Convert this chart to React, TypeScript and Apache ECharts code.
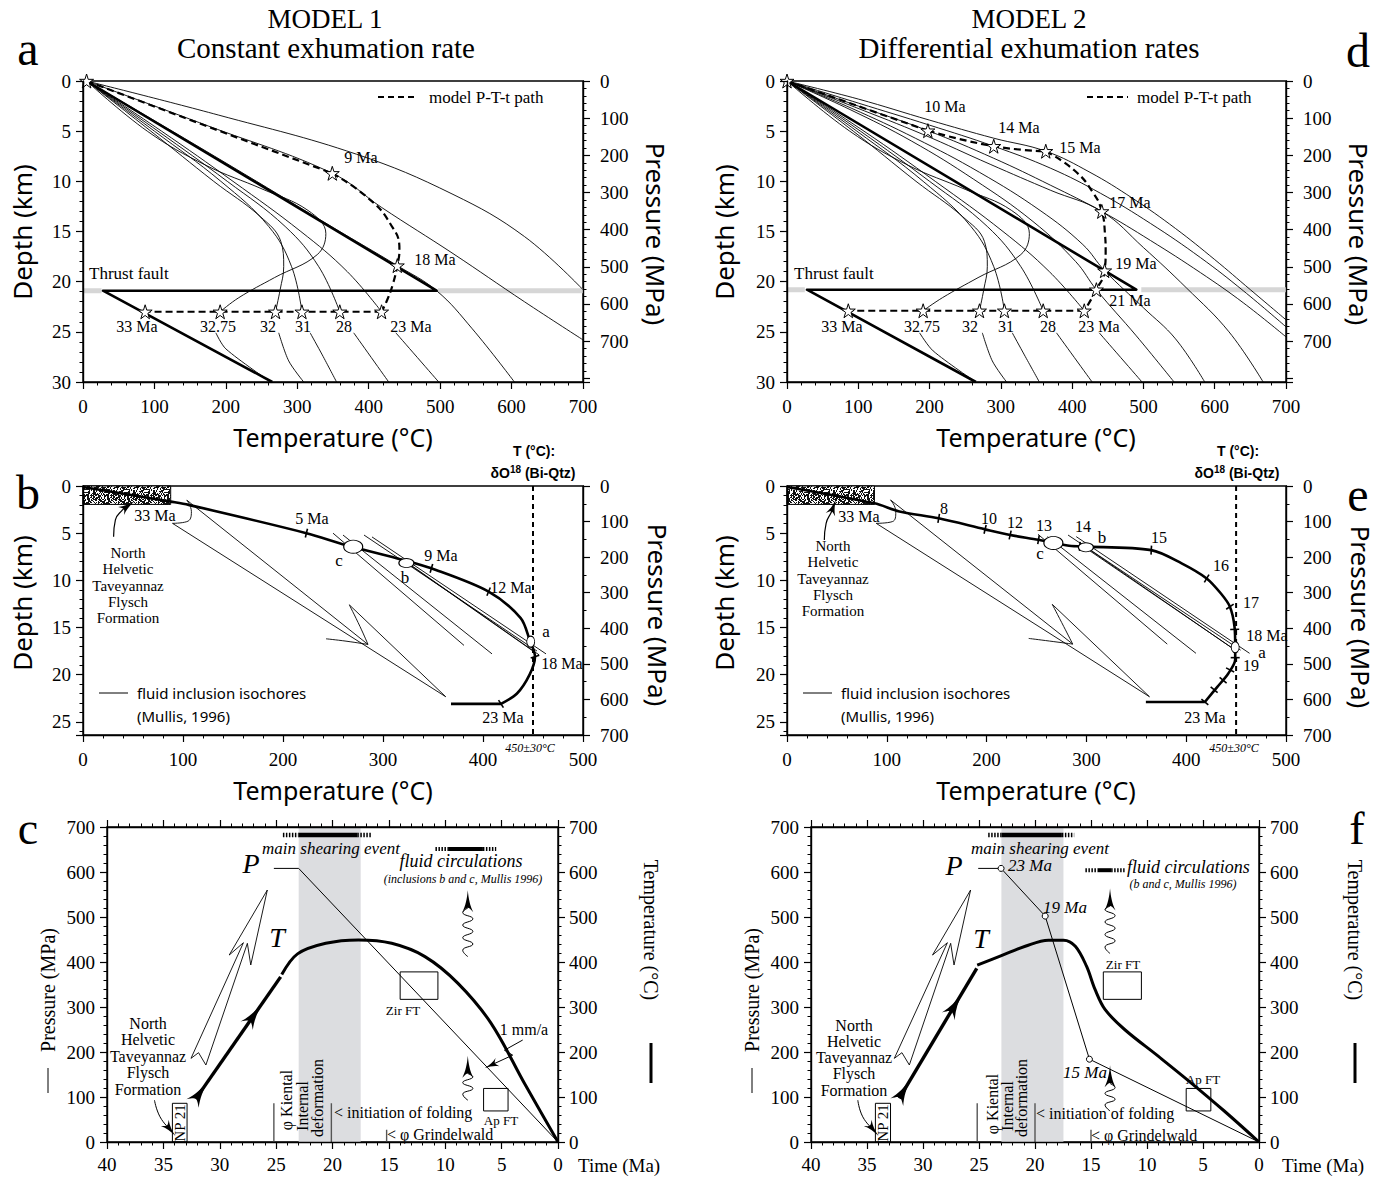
import React, { useEffect, useRef } from 'react';
import * as echarts from 'echarts';

const SERIF = "'Liberation Serif', 'Times New Roman', serif";
const SANS = "'Noto Sans', 'DejaVu Sans', sans-serif";
const NARROW = "'Liberation Sans Narrow', 'Liberation Sans', 'Noto Sans', sans-serif";

// ---------------- axis tick values ----------------
const tempTicksTop = [0, 100, 200, 300, 400, 500, 600, 700];
const depthTicksTop = [0, 5, 10, 15, 20, 25, 30];
const pressTicksTop = [0, 100, 200, 300, 400, 500, 600, 700];
const pressMaxTop = 810;
const tempTicksMid = [0, 100, 200, 300, 400, 500];
const depthTicksMid = [0, 5, 10, 15, 20, 25];
const depthMaxMid = 26.4;
const pressTicksMid = [0, 100, 200, 300, 400, 500, 600, 700];
const timeTicks = [0, 5, 10, 15, 20, 25, 30, 35, 40];
const ptTicks = [0, 100, 200, 300, 400, 500, 600, 700];

// ---------------- panel a : Model 1 geotherms (T °C, depth km) ----------------
const aThrustGeotherm = [[5, 0], [495, 20.9], [28, 20.9], [265, 30]];
const aThrustBandL = [[0, 20.9], [26, 20.9]];
const aThrustBandR = [[497, 20.9], [700, 20.9]];
const aGeoOuter = [[5, 0], [190, 3.4], [383, 7.3], [518, 11.3], [618, 15.5], [700, 20.8]];
const aGeo9 = [[5, 0], [176, 4.5], [349, 9.2], [418, 12.6], [518, 17.2], [618, 22.0], [700, 25.8]];
const aGeo18 = [[5, 0], [125, 5], [243, 10], [350, 14.6], [440, 18.4], [495, 20.9], [545, 24.7], [604, 30]];
const aGeo23 = [[5, 0], [110, 5], [210, 10], [305, 15], [370, 19], [418, 23]];
const aGeo23Low = [[438, 25.1], [498, 30]];
const aGeo28 = [[5, 0], [105, 5], [202, 10], [283, 14.5], [330, 18.5], [359.5, 23]];
const aGeo28Low = [[379, 25.1], [428, 30]];
const aGeo31 = [[5, 0], [100, 5], [193, 10], [260, 14.5], [292, 18.5], [306.5, 23]];
const aGeo31Low = [[318, 25.1], [335, 27.3], [355, 30]];
const aGeo32 = [[5, 0], [95, 5], [183, 10], [248, 13.5], [277, 16], [281, 18.5], [276, 20.8], [269.5, 23]];
const aGeo32Low = [[274, 25.1], [288, 27.9], [309, 30]];
const aGeo3275 = [[5, 0], [90, 5], [172, 8.4], [252, 10.8], [315, 12.9], [340, 15.2], [328, 17.3], [268, 19.6], [218, 21.6], [192, 23]];
const aGeo3275Low = [[186, 25.1], [200, 26.7], [263, 30]];
const aPathUp = [[5, 0], [349, 9.2]];
const aPathLoop = [[349, 9.2], [398, 11.6], [430, 14.2], [443, 16.8], [440, 18.4], [434, 20.2], [426, 21.8], [418, 23]];
const aPathBase = [[418, 23], [87, 23]];
const aStars = [[5, 0], [349, 9.2], [440, 18.4], [418, 23], [359.5, 23], [306.5, 23], [269.5, 23], [192, 23], [87, 23]];

// ---------------- panel d : Model 2 geotherms ----------------
const dThrustGeotherm = [[0, 0], [490, 20.8], [28, 20.8], [265, 30]];
const dThrustBandL = [[0, 20.8], [25, 20.8]];
const dThrustBandR = [[497, 20.8], [700, 20.8]];
const dGeo15 = [[0, 0], [100, 1.8], [200, 3.9], [290, 5.7], [363, 7], [425, 9.1], [485, 11.7], [545, 14.7], [600, 17.8], [650, 20.8], [700, 23.8]];
const dGeo14 = [[0, 0], [100, 2.2], [200, 4.4], [290, 6.5], [370, 8.7], [440, 11.2], [510, 14.2], [580, 17.6], [640, 20.9], [700, 24.5]];
const dGeo10 = [[0, 0], [100, 2.5], [197.6, 4.95], [290, 7.7], [370, 10.4], [441.6, 13], [510, 15.9], [580, 19.1], [640, 22.1], [700, 25.5]];
const dGeo17 = [[0, 0], [95, 2.6], [190, 5.3], [285, 8.3], [370, 10.9], [441.6, 13], [500, 16.6], [560, 20.6], [620, 25], [668, 30]];
const dGeo19 = [[0, 0], [90, 2.7], [180, 5.7], [270, 9.1], [355, 12.9], [415, 16.3], [445.6, 18.9], [500, 22.6], [545, 25.7], [586, 30]];
const dGeo21 = [[0, 0], [87, 2.8], [175, 6], [262, 9.8], [345, 14], [405, 18], [434, 20.8], [490, 25.4], [543, 30]];
const dGeo23 = [[0, 0], [108, 5], [208, 10], [303, 15], [368, 19], [417, 22.9]];
const dGeo23Low = [[438, 25.1], [498, 30]];
const dGeo28 = [[0, 0], [103, 5], [200, 10], [281, 14.5], [328, 18.5], [359.4, 22.9]];
const dGeo28Low = [[378, 25.1], [428, 30]];
const dGeo31 = [[0, 0], [98, 5], [191, 10], [258, 14.5], [290, 18.5], [305, 22.9]];
const dGeo31Low = [[316, 25.1], [333, 27.3], [354, 30]];
const dGeo32 = [[0, 0], [93, 5], [181, 10], [246, 13.5], [277, 16], [281, 18.5], [276, 20.8], [270, 22.9]];
const dGeo32Low = [[274, 25.1], [288, 27.9], [308, 30]];
const dGeo3275 = [[0, 0], [88, 5], [170, 8.4], [250, 10.8], [315, 12.9], [340, 15.2], [328, 17.3], [268, 19.6], [218, 21.6], [191, 22.9]];
const dGeo3275Low = [[186, 25.1], [205, 26.9], [265, 30]];
const dPathUp = [[0, 0], [197.6, 4.95]];
const dPathMid = [[197.6, 4.95], [290, 6.5], [363, 7]];
const dPathLoop = [[363, 7], [403, 8.9], [430, 11.2], [441.6, 13], [446, 15.2], [447, 17], [445.6, 18.9], [434, 20.8], [417, 22.9]];
const dPathBase = [[417, 22.9], [86, 22.9]];
const dStars = [[0, 0], [197.6, 4.95], [290, 6.5], [363, 7], [441.6, 13], [445.6, 18.9], [434, 20.8], [417, 22.9], [359.4, 22.9], [305, 22.9], [270, 22.9], [191, 22.9], [86, 22.9]];

// ---------------- panel b : Model 1 P-T path with fluid inclusions ----------------
const bFlyschBox = [[0, 0], [87.7, 1.95]];
const bBiQtzT = [[450, 0], [450, 26.4]];
const bPath = [[0, 0.1], [87.7, 1.66], [105.6, 2.0], [223.4, 5.0], [262.7, 6.26], [319.9, 7.84], [348.4, 8.73], [405.6, 11.2], [437.7, 14.0], [446.6, 16.3], [452, 18.1], [446.6, 20.0], [434, 22.0], [418, 23.1]];
const bPathBase = [[418, 23.1], [368, 23.1]];
const bTimeTicks = [[223.4, 5.0], [348.4, 8.73], [405.6, 11.2], [452, 18.1], [418, 23.1]];
const bInclusions = [[270.2, 6.43], [323.4, 8.17], [447.7, 16.5]];
const bIsochores = [
  [[250, 5.0], [381, 16.9]],
  [[260, 5.2], [409, 17.8]],
  [[281, 5.2], [454, 17.5]],
  [[289, 5.4], [463, 17.8]],
  [[318, 7.7], [450, 17.5]],
  [[324, 8.1], [456, 17.9]],
];
const bArrowShaft1 = [[103.8, 1.5], [285, 16.8]];
const bArrowShaft2 = [[89.5, 3.96], [362.7, 22.34]];
const bArrowBarb1 = [[243, 16.2], [263, 16.45], [285, 16.8]];
const bArrowBarb2 = [[266.3, 12.6], [277, 14.9], [285, 16.8]];
const bArrowWedge = [[266.3, 12.6], [362.7, 22.34]];
const bArrowHook = [[89.5, 3.96], [103.8, 3.78], [108.4, 2.72], [103.8, 1.5]];
const bFlyschArrow = [[30.6, 5.37], [32.4, 3.6], [39.5, 2.54], [44.9, 2.12]];

// ---------------- panel e : Model 2 P-T path ----------------
const eFlyschBox = [[0, 0], [87.6, 1.95]];
const eBiQtzT = [[450, 0], [450, 26.4]];
const ePath = [[0, 0.1], [87.6, 1.84], [112.6, 2.7], [152, 3.43], [198.5, 4.6], [223.6, 5.2], [252, 5.7], [281, 6.3], [293.4, 6.4], [365, 6.8], [395.4, 8.2], [420.5, 9.8], [434.8, 11.4], [443.8, 12.8], [448.4, 14.9], [449.1, 17.0], [449.1, 18.4], [442, 19.9], [431.2, 21.3], [418.7, 22.9]];
const ePathBase = [[418.7, 22.9], [359.6, 22.9]];
const eTimeTicks = [[152, 3.43], [198.5, 4.6], [223.6, 5.2], [252, 5.7], [293.4, 6.4], [365, 6.8], [420.5, 9.8], [443.8, 12.8], [448.6, 15.2], [449.1, 18.2], [444, 19.5], [437, 20.6], [428, 21.6], [418.7, 22.9]];
const eInclusions = [[266.9, 6.04], [299.5, 6.5], [449.1, 17.1]];
const eIsochores = [
  [[251.5, 5.12], [381, 16.76]],
  [[261, 5.37], [409.8, 17.74]],
  [[281.6, 5.2], [454.5, 17.4]],
  [[289.8, 5.37], [463.5, 17.74]],
  [[297, 6.3], [449, 17.4]],
  [[301, 6.7], [452, 17.6]],
];
const eArrowShaft1 = [[103.7, 1.48], [286.3, 16.76]];
const eArrowShaft2 = [[89.4, 3.96], [363.2, 22.34]];
const eArrowBarb1 = [[242.2, 16.16], [263, 16.44], [286.3, 16.76]];
const eArrowBarb2 = [[265.8, 12.55], [277.3, 14.9], [286.3, 16.76]];
const eArrowWedge = [[265.8, 12.55], [363.2, 22.34]];
const eArrowHook = [[89.4, 3.96], [105.5, 3.78], [109, 2.72], [103.7, 1.48]];
const eFlyschArrow = [[37.4, 5.73], [39.2, 3.96], [44.6, 2.72], [46.4, 2.19]];

// ---------------- panel c : Model 1 P-T-t (time Ma, MPa / °C) ----------------
const cShading = [[23.0, 0], [17.5, 700]];
const cPressure = [[25.2, 608], [23, 608], [0, 0]];
const cTemp = [[24.5, 372], [23.1, 418], [20.6, 441.5], [17.7, 449], [14.75, 441.5], [11.8, 412], [8.87, 352.6], [5.93, 263.7], [2.98, 130.4], [0, 0]];
const cTempArrow = [[32.1, 97], [24.6, 367]];
const cTempArrowHeads = [[31.7, 111], [26.9, 284]];
const cHollowArrow = [[32.55, 185.9], [27.9, 442.9], [29.16, 415.5], [25.78, 560], [27.25, 393.3], [27.55, 441.5], [31.23, 171.1], [31.88, 198.5], [32.55, 185.9]];
const cShearThick = [[23, 682], [17.8, 682]];
const cShearDashL = [[24.4, 682], [23, 682]];
const cShearDashR = [[17.8, 682], [16.5, 682]];
const cFluidThick = [[9.75, 651], [6.66, 651]];
const cFluidDashL = [[10.87, 651], [9.75, 651]];
const cFluidDashR = [[6.66, 651], [5.48, 651]];
const cNP21 = [[34.2, 0], [32.9, 86]];
const cZirFT = [[14.0, 317], [10.65, 378]];
const cApFT = [[6.6, 69], [4.43, 119]];
const cKiental = [[25.2, 0], [25.2, 86]];
const cFolding = [[20.1, 0], [20.1, 86]];
const cGrindelwald = [[15.2, 0], [15.2, 27]];
const cWavyUp = [[8.0, 412], [8.45, 426], [7.55, 440], [8.45, 454], [7.55, 468], [8.45, 482], [7.55, 496], [8.45, 510], [8.0, 520]];
const cWavyUpHead = [[8.0, 535]];
const cWavyLow = [[8.0, 93], [8.45, 106], [7.55, 119], [8.45, 132], [7.55, 145], [8.0, 152]];
const cWavyLowHead = [[8.0, 167]];
const cRateArrow = [[3.13, 226.6], [4.75, 204], [4.02, 193], [5.93, 171]];
const cNPArrow = [[35.79, 93], [35.3, 56], [34.4, 28]];

// ---------------- panel f : Model 2 P-T-t ----------------
const fShading = [[23.0, 0], [17.46, 700]];
const fPressure = [[25.07, 608], [23.03, 608], [19.09, 502], [15.14, 184], [0, 0]];
const fPressureMarks = [[23.03, 608], [19.09, 502], [15.14, 184]];
const fTemp = [[25.16, 393], [23, 414], [20.87, 435], [18.8, 448.5], [17.45, 448.5], [16.4, 435], [15.4, 390.7], [14.64, 339], [13.75, 294.6], [12.0, 250], [9.0, 190.7], [6.07, 131.6], [3.1, 68.9], [0, 0]];
const fTempArrow = [[32.12, 97], [25.2, 386]];
const fTempArrowHeads = [[31.7, 115], [27.1, 306]];
const fHollowArrow = [[32.56, 185.9], [27.82, 442.9], [29.15, 415.5], [25.75, 560], [27.23, 393.3], [27.53, 441.5], [31.22, 171.1], [31.88, 198.5], [32.56, 185.9]];
const fShearThick = [[23.0, 682], [17.6, 682]];
const fShearDashL = [[24.18, 682], [23.0, 682]];
const fShearDashR = [[17.6, 682], [16.5, 682]];
const fFluidThick = [[14.4, 604], [13.2, 604]];
const fFluidDashL = [[15.5, 604], [14.4, 604]];
const fFluidDashR = [[13.2, 604], [12.0, 604]];
const fNP21 = [[34.25, 0], [32.9, 86]];
const fZirFT = [[13.9, 317], [10.5, 378]];
const fApFT = [[6.5, 69], [4.3, 119]];
const fKiental = [[25.16, 0], [25.16, 86]];
const fFolding = [[20.0, 0], [20.0, 86]];
const fGrindelwald = [[15.0, 0], [15.0, 27]];
const fWavyUp = [[13.3, 419], [13.75, 433], [12.85, 447], [13.75, 461], [12.85, 475], [13.75, 489], [12.85, 503], [13.75, 517], [13.3, 524]];
const fWavyUpHead = [[13.3, 539]];
const fWavyLow = [[13.3, 69], [13.75, 82], [12.85, 95], [13.75, 108], [12.85, 121], [13.3, 130]];
const fWavyLowHead = [[13.3, 146]];
const fNPArrow = [[35.82, 93], [35.38, 56], [34.45, 28]];

// ---------------- styling constants (not data) ----------------
const STAR = 'path://M50,0 L61.8,36.2 L100,36.2 L69.1,58.8 L80.9,95.1 L50,72.7 L19.1,95.1 L30.9,58.8 L0,36.2 L38.2,36.2 Z';
const HEAD = 'path://M10,0 C11.5,12 14,21 20,30 C15,26 12.5,24 10,24 C7.5,24 5,26 0,30 C6,21 8.5,12 10,0 Z';
const inclusionSizes = [[19, 13], [15, 9], [8, 11]];

function segAngle(p1: number[], p2: number[], kx: number, ky: number) {
  return (Math.atan2((p2[1] - p1[1]) * ky, (p2[0] - p1[0]) * kx) * 180) / Math.PI;
}
function tangentAt(path: number[][], p: number[], kx: number, ky: number) {
  let best = 0;
  let bd = Infinity;
  for (let i = 0; i < path.length - 1; i++) {
    const a = path[i], b = path[i + 1];
    const ax = a[0] * kx, ay = a[1] * ky, bx = b[0] * kx, by = b[1] * ky;
    const px = p[0] * kx, py = p[1] * ky;
    const dx = bx - ax, dy = by - ay;
    const L2 = dx * dx + dy * dy || 1;
    let t = ((px - ax) * dx + (py - ay) * dy) / L2;
    t = Math.max(0, Math.min(1, t));
    const d = Math.hypot(ax + t * dx - px, ay + t * dy - py);
    if (d < bd) { bd = d; best = i; }
  }
  return segAngle(path[best], path[best + 1], kx, ky);
}
const headRot = (p1: number[], p2: number[], kx: number, ky: number) => -(segAngle(p1, p2, kx, ky) + 90);

// deterministic speckle texture for the flysch box
function makeStipple() {
  const n = 20;
  const c = document.createElement('canvas');
  c.width = n; c.height = n;
  const g = c.getContext('2d') as CanvasRenderingContext2D;
  g.fillStyle = '#ffffff';
  g.fillRect(0, 0, n, n);
  g.fillStyle = '#111111';
  for (let i = 0; i < n; i++) {
    for (let j = 0; j < n; j++) {
      const h = (((i * 73856093) ^ (j * 19349663) ^ (i * j * 83492791)) >>> 0) % 11;
      if (h < 6) g.fillRect(i, j, 1, 1);
    }
  }
  return c.toDataURL();
}

function buildOption() {
  const stipple = { image: makeStipple(), repeat: 'repeat', imageWidth: 20, imageHeight: 20 };
  const series: any[] = [];
  const add = (s: any) => { series.push(s); return s; };
  const line = (xi: number, yi: number, data: any[], w = 0.9, o: any = {}) => ({
    type: 'line', xAxisIndex: xi, yAxisIndex: yi, data, symbol: 'none', showSymbol: false, silent: true,
    animation: false, smooth: o.smooth ?? false, connectNulls: false, clip: true,
    lineStyle: { color: o.color ?? '#000', width: w, type: o.dash ?? 'solid', cap: 'butt', join: 'round' },
    z: o.z ?? 3,
  });
  const scatter = (xi: number, yi: number, data: any[], symbol: string, size: any, o: any = {}) => ({
    type: 'scatter', xAxisIndex: xi, yAxisIndex: yi, data, symbol, symbolSize: size, silent: true,
    animation: false, clip: false,
    itemStyle: { color: o.fill ?? '#fff', borderColor: '#000', borderWidth: o.bw ?? 1, opacity: 1 },
    z: o.z ?? 6,
  });
  const area = (from: number[], to: number[], style: any) => [
    { coord: from, itemStyle: style },
    { coord: to },
  ];

  // ===== panel a (xAxis 0, yAxis 0) and panel d (xAxis 1, yAxis 2)
  const topPanel = (xi: number, yi: number, P: any) => {
    add(line(xi, yi, P.bandL, 5, { color: '#d6d6d6', z: 1 }));
    add(line(xi, yi, P.bandR, 5, { color: '#d6d6d6', z: 1 }));
    P.thin.forEach((g: number[][]) => add(line(xi, yi, g, 0.9, { smooth: 0.4 })));
    P.low.forEach((g: number[][]) => add(line(xi, yi, g, 0.9, { smooth: 0.3 })));
    add(line(xi, yi, P.thrust, 2.6, { z: 4 }));
    P.pathStraight.forEach((g: number[][]) => add(line(xi, yi, g, 2.2, { dash: [7, 4], z: 5 })));
    P.pathCurved.forEach((g: number[][]) => add(line(xi, yi, g, 2.2, { dash: [7, 4], z: 5, smooth: 0.5 })));
    add(scatter(xi, yi, P.stars, STAR, 14, { z: 7 }));
  };
  topPanel(0, 0, {
    bandL: aThrustBandL, bandR: aThrustBandR, thrust: aThrustGeotherm,
    thin: [aGeoOuter, aGeo9, aGeo18, aGeo23, aGeo28, aGeo31, aGeo32, aGeo3275],
    low: [aGeo23Low, aGeo28Low, aGeo31Low, aGeo32Low, aGeo3275Low],
    pathStraight: [aPathUp, aPathBase], pathCurved: [aPathLoop], stars: aStars,
  });
  topPanel(1, 2, {
    bandL: dThrustBandL, bandR: dThrustBandR, thrust: dThrustGeotherm,
    thin: [dGeo15, dGeo14, dGeo10, dGeo17, dGeo19, dGeo21, dGeo23, dGeo28, dGeo31, dGeo32, dGeo3275],
    low: [dGeo23Low, dGeo28Low, dGeo31Low, dGeo32Low, dGeo3275Low],
    pathStraight: [dPathUp, dPathBase], pathCurved: [dPathMid, dPathLoop], stars: dStars,
  });

  // ===== panel b (xAxis 2, yAxis 4) and panel e (xAxis 3, yAxis 6)
  const kxMid = 500 / 500;
  const kyMid = 249 / depthMaxMid;
  const midPanel = (xi: number, yi: number, P: any) => {
    const host = add(line(xi, yi, P.biqtz, 2, { dash: [5, 4], z: 3 }));
    host.markArea = {
      silent: true, label: { show: false }, z: 1,
      data: [area(P.box[0], P.box[1], { color: stipple, borderColor: '#000', borderWidth: 1 })],
    };
    P.iso.forEach((g: number[][]) => add(line(xi, yi, g, 0.9)));
    [P.shaft1, P.shaft2, P.wedge].forEach((g: number[][]) => add(line(xi, yi, g, 0.9)));
    [P.barb1, P.barb2, P.hook].forEach((g: number[][]) => add(line(xi, yi, g, 0.9, { smooth: 0.5 })));
    add(line(xi, yi, P.path, 2.6, { smooth: 0.3, z: 4 }));
    add(line(xi, yi, P.base, 2.6, { z: 4 }));
    add(scatter(xi, yi, P.ticks.map((p: number[]) => ({ value: p, symbolRotate: -tangentAt(P.path, p, kxMid, kyMid) })), 'rect', [1.6, 9], { fill: '#000', bw: 0, z: 5 }));
    add(scatter(xi, yi, P.incl.map((p: number[], i: number) => ({ value: p, symbolSize: inclusionSizes[i] })), 'circle', 10, { z: 6 }));
    add(line(xi, yi, P.flyArrow, 1.2, { smooth: 0.5 }));
    const fa = P.flyArrow;
    add(scatter(xi, yi, [{ value: fa[fa.length - 1], symbolRotate: headRot(fa[fa.length - 2], fa[fa.length - 1], kxMid, kyMid) }], HEAD, [10, 17], { fill: '#000', bw: 0 }));
  };
  midPanel(2, 4, {
    biqtz: bBiQtzT, box: bFlyschBox, iso: bIsochores, shaft1: bArrowShaft1, shaft2: bArrowShaft2, wedge: bArrowWedge,
    barb1: bArrowBarb1, barb2: bArrowBarb2, hook: bArrowHook, path: bPath, base: bPathBase, ticks: bTimeTicks,
    incl: bInclusions, flyArrow: bFlyschArrow,
  });
  midPanel(3, 6, {
    biqtz: eBiQtzT, box: eFlyschBox, iso: eIsochores, shaft1: eArrowShaft1, shaft2: eArrowShaft2, wedge: eArrowWedge,
    barb1: eArrowBarb1, barb2: eArrowBarb2, hook: eArrowHook, path: ePath, base: ePathBase, ticks: eTimeTicks,
    incl: eInclusions, flyArrow: eFlyschArrow,
  });

  // ===== panel c (xAxis 4, yAxis 8) and panel f (xAxis 6, yAxis 10)
  const ptPanel = (xi: number, yi: number, kx: number, P: any) => {
    const ky = -315 / 700;
    const host = add(line(xi, yi, P.pressure, 1, { z: 4 }));
    const boxStyle = { color: 'rgba(0,0,0,0)', borderColor: '#000', borderWidth: 1 };
    host.markArea = {
      silent: true, label: { show: false },
      data: [
        area(P.shading[0], P.shading[1], { color: '#dcdde0', borderWidth: 0 }),
        area(P.np[0], P.np[1], boxStyle),
        area(P.zir[0], P.zir[1], boxStyle),
        area(P.ap[0], P.ap[1], boxStyle),
      ],
    };
    if (P.marks) add(scatter(xi, yi, P.marks, 'circle', 6, { z: 6 }));
    add(line(xi, yi, P.temp, 3, { smooth: 0.35, z: 5 }));
    add(line(xi, yi, P.tArrow, 3.4, { z: 5 }));
    const rT = headRot(P.tArrow[0], P.tArrow[1], kx, ky);
    add(scatter(xi, yi, P.tHeads.map((p: number[]) => ({ value: p, symbolRotate: rT })), HEAD, [15, 28], { fill: '#000', bw: 0 }));
    add(line(xi, yi, P.hollow, 0.9));
    add(line(xi, yi, P.shearThick, 4.5, { z: 5 }));
    add(line(xi, yi, P.shearL, 4.5, { dash: [1.5, 1.5], z: 5 }));
    add(line(xi, yi, P.shearR, 4.5, { dash: [1.5, 1.5], z: 5 }));
    add(line(xi, yi, P.fluidThick, 4, { z: 5 }));
    add(line(xi, yi, P.fluidL, 4, { dash: [1.5, 1.5], z: 5 }));
    add(line(xi, yi, P.fluidR, 4, { dash: [1.5, 1.5], z: 5 }));
    [P.kiental, P.folding, P.grindel].forEach((g: number[][]) => add(line(xi, yi, g, 1.4, { color: '#555' })));
    add(line(xi, yi, P.wavyUp, 1, { smooth: 0.5 }));
    add(line(xi, yi, P.wavyLow, 1, { smooth: 0.5 }));
    add(scatter(xi, yi, [...P.wavyUpHead, ...P.wavyLowHead], HEAD, [11, 22], { fill: '#000', bw: 0 }));
    add(line(xi, yi, P.npArrow, 1, { smooth: 0.5 }));
    const na = P.npArrow;
    add(scatter(xi, yi, [{ value: na[na.length - 1], symbolRotate: headRot(na[na.length - 2], na[na.length - 1], kx, ky) }], HEAD, [10, 17], { fill: '#000', bw: 0 }));
    if (P.rate) {
      add(line(xi, yi, P.rate, 1));
      const ra = P.rate;
      add(scatter(xi, yi, [{ value: ra[ra.length - 1], symbolRotate: headRot(ra[ra.length - 2], ra[ra.length - 1], kx, ky) }], HEAD, [9, 14], { fill: '#000', bw: 0 }));
    }
  };
  ptPanel(4, 8, -451 / 40, {
    pressure: cPressure, shading: cShading, np: cNP21, zir: cZirFT, ap: cApFT, temp: cTemp, tArrow: cTempArrow,
    tHeads: cTempArrowHeads, hollow: cHollowArrow, shearThick: cShearThick, shearL: cShearDashL, shearR: cShearDashR,
    fluidThick: cFluidThick, fluidL: cFluidDashL, fluidR: cFluidDashR, kiental: cKiental, folding: cFolding,
    grindel: cGrindelwald, wavyUp: cWavyUp, wavyLow: cWavyLow, wavyUpHead: cWavyUpHead, wavyLowHead: cWavyLowHead,
    npArrow: cNPArrow, rate: cRateArrow,
  });
  ptPanel(6, 10, -448 / 40, {
    pressure: fPressure, marks: fPressureMarks, shading: fShading, np: fNP21, zir: fZirFT, ap: fApFT, temp: fTemp,
    tArrow: fTempArrow, tHeads: fTempArrowHeads, hollow: fHollowArrow, shearThick: fShearThick, shearL: fShearDashL,
    shearR: fShearDashR, fluidThick: fFluidThick, fluidL: fFluidDashL, fluidR: fFluidDashR, kiental: fKiental,
    folding: fFolding, grindel: fGrindelwald, wavyUp: fWavyUp, wavyLow: fWavyLow, wavyUpHead: fWavyUpHead,
    wavyLowHead: fWavyLowHead, npArrow: fNPArrow,
  });

  // ===== axes
  const ax = (o: any) => ({
    type: 'value', z: 10,
    gridIndex: o.grid, position: o.pos, min: o.min, max: o.max, interval: o.interval, inverse: !!o.inverse,
    axisLine: { show: true, onZero: false, lineStyle: { color: '#000', width: 1.4 } },
    axisTick: { show: true, inside: false, length: 7, lineStyle: { color: '#000', width: 1.2 } },
    minorTick: { show: true, splitNumber: o.minor ?? 5, length: 3.5, lineStyle: { color: '#000', width: 1 } },
    splitLine: { show: false }, minorSplitLine: { show: false },
    axisLabel: {
      show: o.labels !== false, color: '#000', fontFamily: SERIF, fontSize: 19, margin: o.margin ?? 12,
      ...(o.fmt ? { formatter: o.fmt } : {}),
    },
  });
  const step = (arr: number[]) => arr[1] - arr[0];
  const xAxis = [
    ax({ grid: 0, pos: 'bottom', min: tempTicksTop[0], max: tempTicksTop[tempTicksTop.length - 1], interval: step(tempTicksTop), margin: 15 }),
    ax({ grid: 1, pos: 'bottom', min: tempTicksTop[0], max: tempTicksTop[tempTicksTop.length - 1], interval: step(tempTicksTop), margin: 15 }),
    ax({ grid: 2, pos: 'bottom', min: tempTicksMid[0], max: tempTicksMid[tempTicksMid.length - 1], interval: step(tempTicksMid), margin: 15 }),
    ax({ grid: 3, pos: 'bottom', min: tempTicksMid[0], max: tempTicksMid[tempTicksMid.length - 1], interval: step(tempTicksMid), margin: 15 }),
    ax({ grid: 4, pos: 'bottom', min: timeTicks[0], max: timeTicks[timeTicks.length - 1], interval: step(timeTicks), inverse: true, margin: 13 }),
    ax({ grid: 4, pos: 'top', min: timeTicks[0], max: timeTicks[timeTicks.length - 1], interval: step(timeTicks), inverse: true, labels: false }),
    ax({ grid: 5, pos: 'bottom', min: timeTicks[0], max: timeTicks[timeTicks.length - 1], interval: step(timeTicks), inverse: true, margin: 13 }),
    ax({ grid: 5, pos: 'top', min: timeTicks[0], max: timeTicks[timeTicks.length - 1], interval: step(timeTicks), inverse: true, labels: false }),
  ];
  const hideAbove = (lim: number) => (v: number) => (v <= lim + 1e-6 ? String(v) : '');
  const onlyMult = (m: number) => (v: number) => (Math.abs(v / m - Math.round(v / m)) < 1e-6 ? String(v) : '');
  const pressMaxMid = pressTicksMid[pressTicksMid.length - 1];
  const yAxis = [
    ax({ grid: 0, pos: 'left', min: 0, max: depthTicksTop[depthTicksTop.length - 1], interval: step(depthTicksTop), inverse: true }),
    ax({ grid: 0, pos: 'right', min: 0, max: pressMaxTop, interval: step(pressTicksTop), inverse: true, margin: 17, fmt: hideAbove(pressTicksTop[pressTicksTop.length - 1]) }),
    ax({ grid: 1, pos: 'left', min: 0, max: depthTicksTop[depthTicksTop.length - 1], interval: step(depthTicksTop), inverse: true }),
    ax({ grid: 1, pos: 'right', min: 0, max: pressMaxTop, interval: step(pressTicksTop), inverse: true, margin: 17, fmt: hideAbove(pressTicksTop[pressTicksTop.length - 1]) }),
    ax({ grid: 2, pos: 'left', min: 0, max: depthMaxMid, interval: step(depthTicksMid), inverse: true, fmt: onlyMult(step(depthTicksMid)) }),
    ax({ grid: 2, pos: 'right', min: 0, max: pressMaxMid, interval: step(pressTicksMid), inverse: true, minor: 2, margin: 17 }),
    ax({ grid: 3, pos: 'left', min: 0, max: depthMaxMid, interval: step(depthTicksMid), inverse: true, fmt: onlyMult(step(depthTicksMid)) }),
    ax({ grid: 3, pos: 'right', min: 0, max: pressMaxMid, interval: step(pressTicksMid), inverse: true, minor: 2, margin: 17 }),
    ax({ grid: 4, pos: 'left', min: 0, max: ptTicks[ptTicks.length - 1], interval: step(ptTicks), margin: 12 }),
    ax({ grid: 4, pos: 'right', min: 0, max: ptTicks[ptTicks.length - 1], interval: step(ptTicks), margin: 11 }),
    ax({ grid: 5, pos: 'left', min: 0, max: ptTicks[ptTicks.length - 1], interval: step(ptTicks), margin: 12 }),
    ax({ grid: 5, pos: 'right', min: 0, max: ptTicks[ptTicks.length - 1], interval: step(ptTicks), margin: 11 }),
  ];
  const gridBox = (left: number, top: number, width: number, height: number) => ({
    left, top, width, height, show: true, borderColor: '#000', borderWidth: 1.4, backgroundColor: 'transparent', containLabel: false,
  });
  const grid = [
    gridBox(83, 81, 500, 301),
    gridBox(787, 81, 499, 301),
    gridBox(83, 486, 500, 249),
    gridBox(787, 486, 499, 249),
    gridBox(107, 827, 451, 315),
    gridBox(811, 827, 448, 315),
  ];

  // ===== texts and key swatches
  const G: any[] = [];
  const txt = (text: string, x: number, y: number, size: number, o: any = {}) => G.push({
    type: 'text', x, y, rotation: o.rot ?? 0, z: 100, silent: true,
    style: {
      text, fill: '#000', fontSize: size, fontFamily: o.family ?? SERIF, fontStyle: o.italic ? 'italic' : 'normal',
      fontWeight: o.bold ? 'bold' : 'normal', align: o.align ?? 'center', verticalAlign: 'middle',
    },
  });
  const seg = (x1: number, y1: number, x2: number, y2: number, w = 1, o: any = {}) => G.push({
    type: 'line', z: 100, silent: true, shape: { x1, y1, x2, y2 },
    style: { stroke: o.color ?? '#000', lineWidth: w, lineDash: o.dash ?? null },
  });
  const R90 = Math.PI / 2;

  // headers
  txt('MODEL 1', 325, 19, 27);
  txt('Constant exhumation rate', 326, 48, 29);
  txt('MODEL 2', 1029, 19, 27);
  txt('Differential exhumation rates', 1029, 48, 29);
  txt('a', 28, 48, 48);
  txt('b', 28, 492, 48);
  txt('c', 28, 828, 46);
  txt('d', 1358, 50, 48);
  txt('e', 1358, 494, 48);
  txt('f', 1357, 828, 46);

  // axis titles
  const axTitle = (t: string, x: number, y: number, rot = 0, size = 26) => txt(t, x, y, size, { family: SANS, rot });
  axTitle('Depth (km)', 22, 232, R90);
  axTitle('Pressure (MPa)', 656, 234, -R90);
  axTitle('Temperature (°C)', 333, 437, 0, 25);
  axTitle('Depth (km)', 724, 232, R90);
  axTitle('Pressure (MPa)', 1359, 234, -R90);
  axTitle('Temperature (°C)', 1036, 437, 0, 25);
  axTitle('Depth (km)', 22, 603, R90);
  axTitle('Pressure (MPa)', 658, 615, -R90);
  axTitle('Temperature (°C)', 333, 790, 0, 25);
  axTitle('Depth (km)', 724, 603, R90);
  axTitle('Pressure (MPa)', 1361, 617, -R90);
  axTitle('Temperature (°C)', 1036, 790, 0, 25);

  // panel a labels
  seg(378, 97, 418, 97, 2.2, { dash: [6, 4] });
  txt('model P-T-t path', 429, 97, 17, { align: 'left' });
  txt('9 Ma', 361, 157, 16);
  txt('18 Ma', 435, 259, 16);
  txt('Thrust fault', 89, 273, 17, { align: 'left' });
  txt('33 Ma', 137, 326, 16);
  txt('32.75', 218, 326, 16);
  txt('32', 268, 326, 16);
  txt('31', 303, 326, 16);
  txt('28', 344, 326, 16);
  txt('23 Ma', 411, 326, 16);

  // panel d labels
  seg(1087, 97, 1128, 97, 2.2, { dash: [6, 4] });
  txt('model P-T-t path', 1137, 97, 17, { align: 'left' });
  txt('10 Ma', 945, 106, 16);
  txt('14 Ma', 1019, 127, 16);
  txt('15 Ma', 1080, 147, 16);
  txt('17 Ma', 1130, 202, 16);
  txt('19 Ma', 1136, 263, 16);
  txt('21 Ma', 1130, 300, 16);
  txt('Thrust fault', 794, 273, 17, { align: 'left' });
  txt('33 Ma', 842, 326, 16);
  txt('32.75', 922, 326, 16);
  txt('32', 970, 326, 16);
  txt('31', 1006, 326, 16);
  txt('28', 1048, 326, 16);
  txt('23 Ma', 1099, 326, 16);

  // panel b / e common labels
  const midLabels = (dx: number, flyX: number, flyY: number) => {
    txt('T (°C):', 534 + dx, 451, 14, { family: NARROW, bold: true });
    G.push({
      type: 'text', x: 533 + dx, y: 473, z: 100, silent: true,
      style: {
        text: '{a|δO}{b|18}{a| (Bi-Qtz)}', align: 'center', verticalAlign: 'middle',
        rich: {
          a: { fontSize: 14, fontFamily: NARROW, fontWeight: 'bold', fill: '#000' },
          b: { fontSize: 10, fontFamily: NARROW, fontWeight: 'bold', fill: '#000', padding: [0, 0, 7, 0] },
        },
      },
    });
    txt('450±30°C', 530 + dx, 748, 12, { italic: true });
    ['North', 'Helvetic', 'Taveyannaz', 'Flysch', 'Formation'].forEach((s, i) => txt(s, flyX, flyY + i * 16.3, 15));
    seg(99 + dx, 693, 128 + dx, 693, 1);
    txt('fluid inclusion isochores', 137 + dx, 693, 15, { family: SANS, align: 'left' });
    txt('(Mullis, 1996)', 137 + dx, 716, 15, { family: SANS, align: 'left' });
  };
  midLabels(0, 128, 553);
  midLabels(704, 833, 546);
  txt('33 Ma', 155, 515, 16);
  txt('5 Ma', 312, 518, 16);
  txt('9 Ma', 441, 555, 16);
  txt('12 Ma', 511, 587, 16);
  txt('18 Ma', 562, 663, 16);
  txt('23 Ma', 503, 717, 16);
  txt('c', 339, 560, 17);
  txt('b', 405, 577, 17);
  txt('a', 546, 631, 17);

  txt('33 Ma', 859, 516, 16);
  txt('8', 944, 508, 16);
  txt('10', 989, 518, 16);
  txt('12', 1015, 522, 16);
  txt('13', 1044, 525, 16);
  txt('14', 1083, 526, 16);
  txt('b', 1102, 537, 17);
  txt('15', 1159, 537, 16);
  txt('c', 1040, 553, 17);
  txt('16', 1221, 565, 16);
  txt('17', 1251, 602, 16);
  txt('18 Ma', 1267, 635, 16);
  txt('a', 1262, 652, 17);
  txt('19', 1251, 665, 16);
  txt('23 Ma', 1205, 717, 16);

  // panel c / f common labels
  const ptLabels = (leftX: number, rightX: number, timeX: number) => {
    txt('Pressure (MPa)', leftX, 990, 20, { rot: R90 });
    seg(leftX, 1068, leftX, 1093, 1);
    txt('Temperature (°C)', rightX, 930, 20, { rot: -R90 });
    seg(rightX, 1043, rightX, 1083, 3);
    txt('Time (Ma)', timeX, 1165, 19, { align: 'left' });
  };
  ptLabels(48, 651, 578);
  ptLabels(752, 1355, 1282);

  txt('P', 251, 863, 28, { italic: true });
  txt('T', 277, 937, 28, { italic: true });
  txt('main shearing event', 331, 848, 17, { italic: true });
  txt('fluid circulations', 461, 861, 18, { italic: true });
  txt('(inclusions b and c, Mullis 1996)', 463, 879, 12, { italic: true });
  txt('Zir FT', 403, 1010, 13);
  txt('Ap FT', 501, 1120, 13);
  txt('1 mm/a', 524, 1029, 16);
  ['North', 'Helvetic', 'Taveyannaz', 'Flysch', 'Formation'].forEach((s, i) => txt(s, 148, 1023 + i * 16.5, 16));
  txt('NP 21', 180, 1123, 15, { rot: R90 });
  txt('φ Kiental', 286, 1100, 16, { rot: R90 });
  txt('Internal', 302, 1106, 16, { rot: R90 });
  txt('deformation', 317.6, 1098, 16, { rot: R90 });
  txt('< initiation of folding', 334, 1112, 16, { align: 'left' });
  txt('< φ Grindelwald', 387, 1134, 16, { align: 'left' });

  txt('P', 954, 865, 28, { italic: true });
  txt('T', 981, 938, 28, { italic: true });
  txt('23 Ma', 1030, 865, 17, { italic: true });
  txt('19 Ma', 1065, 907, 17, { italic: true });
  txt('15 Ma', 1085, 1072, 17, { italic: true });
  txt('main shearing event', 1040, 848, 17, { italic: true });
  txt('fluid circulations', 1127, 867, 18, { italic: true, align: 'left' });
  txt('(b and c, Mullis 1996)', 1183, 884, 12, { italic: true });
  txt('Zir FT', 1123, 964, 13);
  txt('Ap FT', 1203, 1079, 13);
  ['North', 'Helvetic', 'Taveyannaz', 'Flysch', 'Formation'].forEach((s, i) => txt(s, 854, 1025 + i * 16.3, 16));
  txt('NP 21', 883, 1123, 15, { rot: R90 });
  txt('φ Kiental', 992, 1104, 16, { rot: R90 });
  txt('Internal', 1007, 1106, 16, { rot: R90 });
  txt('deformation', 1021.5, 1098, 16, { rot: R90 });
  txt('< initiation of folding', 1036, 1113, 16, { align: 'left' });
  txt('< φ Grindelwald', 1091, 1135, 16, { align: 'left' });

  return {
    animation: false,
    backgroundColor: '#ffffff',
    grid, xAxis, yAxis, series, graphic: G,
  };
}

export default function App() {
  const ref = useRef<HTMLDivElement>(null);
  useEffect(() => {
    const chart = echarts.init(ref.current as HTMLDivElement, null, { renderer: 'svg' });
    chart.setOption(buildOption() as any);
    return () => chart.dispose();
  }, []);
  return (
    <div
      ref={ref}
      style={{ position: 'absolute', left: 0, top: 0, width: 1386, height: 1178, background: '#fff' }}
    />
  );
}
